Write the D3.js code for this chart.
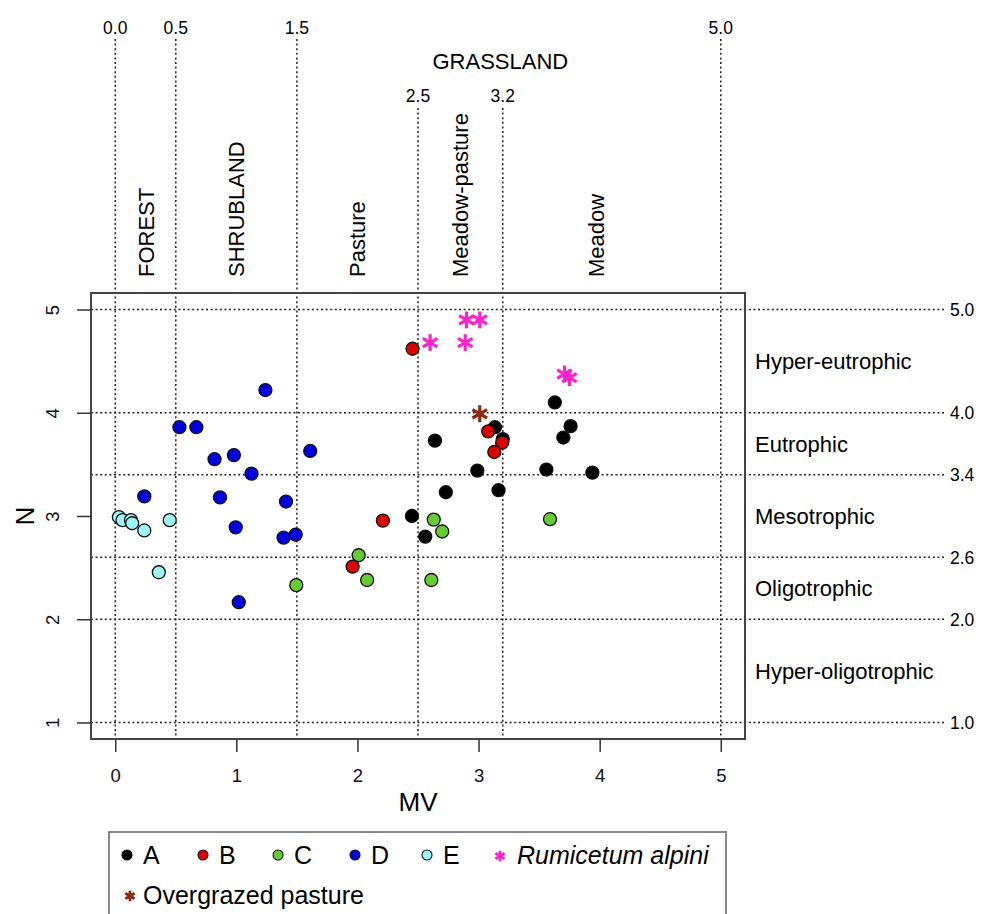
<!DOCTYPE html>
<html>
<head>
<meta charset="utf-8">
<script src="https://cdn.jsdelivr.net/npm/d3@7"></script>
<style>
  body { margin: 0; background: #fff; }
  svg { font-family: "Liberation Sans", Arial, sans-serif; }
</style>
</head>
<body>
<div id="chart"></div>
<script>
// data (MV on x, N on y)
const mvA = [3.63, 3.135, 3.20, 3.76, 3.70, 2.64, 2.99, 3.56, 3.94, 2.73, 3.165, 2.45, 2.56];
const nA  = [4.10, 3.86, 3.745, 3.87, 3.76, 3.73, 3.44, 3.45, 3.42, 3.23, 3.25, 3.00, 2.80];
const mvB = [2.455, 3.08, 3.195, 3.13, 2.21, 1.96];
const nB  = [4.62, 3.82, 3.71, 3.62, 2.955, 2.51];
const mvC = [1.495, 2.01, 2.08, 2.63, 2.70, 3.59, 2.61];
const nC  = [2.33, 2.62, 2.38, 2.965, 2.85, 2.97, 2.38];
const mvD = [1.24, 0.53, 0.67, 0.82, 0.98, 1.125, 1.61, 0.24, 0.865, 1.41, 0.995, 1.39, 1.49, 1.02];
const nD  = [4.22, 3.86, 3.86, 3.55, 3.59, 3.41, 3.63, 3.19, 3.18, 3.14, 2.89, 2.79, 2.82, 2.165];
const mvE = [0.03, 0.06, 0.13, 0.14, 0.45, 0.24, 0.36];
const nE  = [2.99, 2.96, 2.96, 2.93, 2.96, 2.86, 2.455];
const mvRum = [2.90, 3.01, 2.60, 2.89, 3.71, 3.75];
const nRum  = [4.90, 4.90, 4.68, 4.68, 4.375, 4.34];
const mvOver = [3.01];
const nOver  = [3.99];

const groups = ['A', 'B', 'C', 'D', 'E'];
const xTicks = [0, 1, 2, 3, 4, 5];
const yTicks = [1, 2, 3, 4, 5];
// vegetation thresholds on MV and trophic thresholds on N
const mvHigh = [0.0, 0.5, 1.5, 5.0];
const mvLow = [2.5, 3.2];
const nBreaks = [5.0, 4.0, 3.4, 2.6, 2.0, 1.0];
const vegNames = ['FOREST', 'SHRUBLAND', 'Pasture', 'Meadow-pasture', 'Meadow'];
const vegAt = [0.25, 1.0, 2.0, 2.85, 3.97];
const trophNames = ['Hyper-eutrophic', 'Eutrophic', 'Mesotrophic', 'Oligotrophic', 'Hyper-oligotrophic'];
const trophAt = [4.5, 3.7, 3.0, 2.3, 1.5];

const w = 987, h = 914;
const box = {left: 91, right: 745, top: 293, bottom: 739};
const fills = {A: '#000000', B: '#dd0000', C: '#66cc33', D: '#0000e0', E: '#9cf6f6'};
const pink = '#ff22cc', brown = '#8b2a10';
const numSize = 17.5;

const x = d3.scaleLinear().domain([-0.2, 5.2]).range([box.left, box.right]);
const y = d3.scaleLinear().domain([0.84, 5.16]).range([box.bottom, box.top]);

const svg = d3.select('#chart').append('svg')
  .attr('width', w).attr('height', h);

svg.append('rect').attr('width', w).attr('height', h).attr('fill', '#fff');

const dotted = sel => sel.attr('stroke', '#222').attr('stroke-width', 1.5)
  .attr('stroke-dasharray', '2,2.6');

// vertical threshold lines
svg.selectAll('.vhi').data(mvHigh).enter().append('line')
  .attr('x1', d => x(d)).attr('x2', d => x(d))
  .attr('y1', 39).attr('y2', box.bottom).call(dotted);
svg.selectAll('.vlo').data(mvLow).enter().append('line')
  .attr('x1', d => x(d)).attr('x2', d => x(d))
  .attr('y1', 108).attr('y2', box.bottom).call(dotted);

svg.selectAll('.vhiT').data(mvHigh).enter().append('text')
  .attr('x', d => x(d)).attr('y', 34).attr('text-anchor', 'middle')
  .attr('font-size', numSize).text(d => d.toFixed(1));
svg.selectAll('.vloT').data(mvLow).enter().append('text')
  .attr('x', d => x(d)).attr('y', 102).attr('text-anchor', 'middle')
  .attr('font-size', numSize).text(d => d.toFixed(1));

svg.append('text').attr('x', x(3.18)).attr('y', 69).attr('text-anchor', 'middle')
  .attr('font-size', 22).text('GRASSLAND');

svg.selectAll('.veg').data(vegNames).enter().append('text')
  .attr('transform', (d, i) => `translate(${x(vegAt[i]) + 8},277) rotate(-90)`)
  .attr('font-size', 22).text(d => d);

// horizontal threshold lines
svg.selectAll('.hl').data(nBreaks).enter().append('line')
  .attr('x1', box.left).attr('x2', 945)
  .attr('y1', d => y(d)).attr('y2', d => y(d)).call(dotted);
svg.selectAll('.hlT').data(nBreaks).enter().append('text')
  .attr('x', 950).attr('y', d => y(d) + 6.5)
  .attr('font-size', numSize).text(d => d.toFixed(1));

svg.selectAll('.troph').data(trophNames).enter().append('text')
  .attr('x', 755).attr('y', (d, i) => y(trophAt[i]) + 8)
  .attr('font-size', 22).text(d => d);

// plot box
svg.append('rect')
  .attr('x', box.left).attr('y', box.top)
  .attr('width', box.right - box.left).attr('height', box.bottom - box.top)
  .attr('fill', 'none').attr('stroke', '#444').attr('stroke-width', 2);

// axes
const xAxis = d3.axisBottom(x).tickValues(xTicks).tickSize(13).tickPadding(17)
  .tickFormat(d3.format('d'));
const gx = svg.append('g').attr('transform', `translate(0,${box.bottom})`).call(xAxis);
gx.select('.domain').remove();
gx.selectAll('line').attr('stroke', '#333').attr('stroke-width', 1.5);
gx.selectAll('text').attr('font-size', 18.5).attr('fill', '#111')
  .attr('font-family', '"Liberation Sans", Arial, sans-serif');

const yAxis = d3.axisLeft(y).tickValues(yTicks).tickSize(14).tickFormat(d3.format('d'));
const gy = svg.append('g').attr('transform', `translate(${box.left},0)`).call(yAxis);
gy.select('.domain').remove();
gy.selectAll('line').attr('stroke', '#333').attr('stroke-width', 1.5);
gy.selectAll('text')
  .attr('x', 0).attr('y', -32).attr('dy', null)
  .attr('transform', 'rotate(-90)').attr('text-anchor', 'middle')
  .attr('font-size', 18.5).attr('fill', '#111')
  .attr('font-family', '"Liberation Sans", Arial, sans-serif');

svg.append('text').attr('x', (box.left + box.right) / 2).attr('y', 811)
  .attr('text-anchor', 'middle').attr('font-size', 26).text('MV');
svg.append('text')
  .attr('transform', `translate(34,${(box.top + box.bottom) / 2}) rotate(-90)`)
  .attr('text-anchor', 'middle').attr('font-size', 26).text('N');

// points
const series = [
  {g: 'A', mv: mvA, n: nA},
  {g: 'C', mv: mvC, n: nC},
  {g: 'D', mv: mvD, n: nD},
  {g: 'E', mv: mvE, n: nE},
  {g: 'B', mv: mvB, n: nB}
];
series.forEach(s => {
  svg.selectAll(null).data(s.mv).enter().append('circle')
    .attr('cx', d => x(d)).attr('cy', (d, i) => y(s.n[i]))
    .attr('r', 6.5).attr('fill', fills[s.g])
    .attr('stroke', '#111').attr('stroke-width', 1.3);
});

const star = d3.symbol().type(d3.symbolAsterisk).size(200);
svg.selectAll(null).data(mvRum).enter().append('path')
  .attr('d', star).attr('transform', (d, i) => `translate(${x(d)},${y(nRum[i])})`)
  .attr('fill', 'none').attr('stroke', pink).attr('stroke-width', 3.2);
svg.selectAll(null).data(mvOver).enter().append('path')
  .attr('d', star).attr('transform', (d, i) => `translate(${x(d)},${y(nOver[i])})`)
  .attr('fill', 'none').attr('stroke', brown).attr('stroke-width', 3.2);

// legend
const lg = svg.append('g');
lg.append('rect').attr('x', 109).attr('y', 832).attr('width', 617).attr('height', 110)
  .attr('fill', '#fff').attr('stroke', '#888').attr('stroke-width', 2);
const legX = [127, 203, 278, 355, 427];
groups.forEach((g, i) => {
  lg.append('circle').attr('cx', legX[i]).attr('cy', 855).attr('r', 5)
    .attr('fill', fills[g]).attr('stroke', '#111').attr('stroke-width', 1.1);
  lg.append('text').attr('x', legX[i] + 16).attr('y', 864).attr('font-size', 25).text(g);
});
const smallStar = d3.symbol().type(d3.symbolAsterisk).size(80);
lg.append('path').attr('d', smallStar).attr('transform', 'translate(500,856)')
  .attr('fill', 'none').attr('stroke', pink).attr('stroke-width', 2.8);
lg.append('text').attr('x', 517).attr('y', 864).attr('font-size', 25)
  .attr('font-style', 'italic').text('Rumicetum alpini');
lg.append('path').attr('d', smallStar).attr('transform', 'translate(130,896)')
  .attr('fill', 'none').attr('stroke', brown).attr('stroke-width', 2.8);
lg.append('text').attr('x', 143).attr('y', 904).attr('font-size', 25).text('Overgrazed pasture');
</script>
</body>
</html>
